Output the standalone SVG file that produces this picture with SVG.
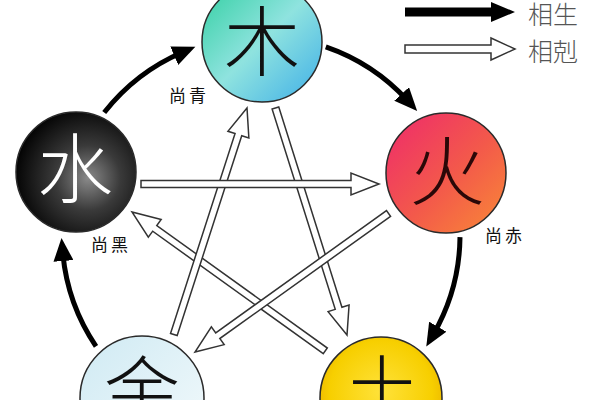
<svg xmlns="http://www.w3.org/2000/svg" xmlns:xlink="http://www.w3.org/1999/xlink" width="600" height="400" viewBox="0 0 600 400">
  <defs>
    <style>
      .node { stroke: #2a2a2a; stroke-width: 1.5; }
      .big { font-family: "Noto Sans CJK SC", "Noto Sans CJK JP", sans-serif; font-size: 76px; font-weight: 300; text-anchor: middle; }
      .lbl { font-family: "Noto Sans CJK SC", "Noto Sans CJK JP", sans-serif; font-size: 17px; fill: #111; letter-spacing: 3px; }
      .leg { font-family: "Noto Sans CJK SC", "Noto Sans CJK JP", sans-serif; font-size: 25px; font-weight: 300; fill: #555; }
      .sheng { fill: none; stroke: #000; stroke-width: 5; marker-end: url(#head); }
      .ke { fill: #fff; stroke: #333; stroke-width: 1.5; stroke-linejoin: miter; }
    </style>
    <marker id="head" markerUnits="userSpaceOnUse" markerWidth="24" markerHeight="20" refX="9" refY="10" orient="auto">
      <path d="M0,0 L23,10 L0,20 z" fill="#000"/>
    </marker>
    <polygon id="kearrow" points="-238,-3.5 -28,-3.5 -28,-11 0,0 -28,11 -28,3.5 -238,3.5"/>
    <linearGradient id="gWood" x1="0" y1="0" x2="1" y2="1">
      <stop offset="0" stop-color="#30cfa0"/>
      <stop offset="0.5" stop-color="#8fe3df"/>
      <stop offset="1" stop-color="#3eaee8"/>
    </linearGradient>
    <linearGradient id="gFire" x1="0" y1="0" x2="1" y2="1">
      <stop offset="0" stop-color="#ee2a6c"/>
      <stop offset="0.55" stop-color="#f35a4a"/>
      <stop offset="1" stop-color="#f98a36"/>
    </linearGradient>
    <radialGradient id="gWater" cx="0.6" cy="0.55" r="0.6">
      <stop offset="0" stop-color="#8a8a8a"/>
      <stop offset="0.45" stop-color="#3a3a3a"/>
      <stop offset="1" stop-color="#050505"/>
    </radialGradient>
    <linearGradient id="gMetal" x1="0" y1="0" x2="1" y2="1">
      <stop offset="0" stop-color="#cfeaf3"/>
      <stop offset="1" stop-color="#f4fafc"/>
    </linearGradient>
    <radialGradient id="gEarth" cx="0.5" cy="0.45" r="0.6">
      <stop offset="0" stop-color="#ffe23a"/>
      <stop offset="0.7" stop-color="#f7cf00"/>
      <stop offset="1" stop-color="#e8ad00"/>
    </radialGradient>
  </defs>
  <rect width="600" height="400" fill="#fff"/>

  <g id="connectors">
    <use xlink:href="#kearrow" class="ke" transform="translate(347,335) rotate(72.5)"/>
    <use xlink:href="#kearrow" class="ke" transform="translate(132,212) rotate(-144.3)"/>
    <use xlink:href="#kearrow" class="ke" transform="translate(195,352) rotate(144.4)"/>
    <use xlink:href="#kearrow" class="ke" transform="translate(247,108) rotate(-72.1)"/>
    <use xlink:href="#kearrow" class="ke" transform="translate(379,184)"/>
    <path class="sheng" d="M325.8,46.8 A199,199 0 0 1 407.7,100.6"/>
    <path class="sheng" d="M460,237.1 A199,199 0 0 1 433.3,334.5"/>
    <path class="sheng" d="M96,346.3 A199,199 0 0 1 62.7,252"/>
    <path class="sheng" d="M104.2,112.5 A199,199 0 0 1 182.5,52.2"/>
  </g>

  <g id="wood">
    <circle class="node" cx="262" cy="42" r="60" fill="url(#gWood)"/>
    <text class="big" x="262" y="70" fill="#111">木</text>
    <text class="lbl" x="169" y="102">尚青</text>
  </g>
  <g id="fire">
    <circle class="node" cx="446" cy="173" r="60" fill="url(#gFire)"/>
    <text class="big" x="447" y="199" fill="#2a0808">火</text>
    <text class="lbl" x="485" y="242">尚赤</text>
  </g>
  <g id="water">
    <circle class="node" cx="76" cy="172" r="60" fill="url(#gWater)"/>
    <text class="big" x="75" y="197" fill="#fff">水</text>
    <text class="lbl" x="91" y="251">尚黑</text>
  </g>
  <g id="metal">
    <circle class="node" cx="142" cy="398" r="62" fill="url(#gMetal)"/>
    <text class="big" x="142" y="420" fill="#111">金</text>
  </g>
  <g id="earth">
    <circle class="node" cx="381" cy="398" r="61" fill="url(#gEarth)"/>
    <text class="big" x="382" y="419" fill="#111">土</text>
  </g>

  <g id="legend">
    <polygon points="405,7.5 491,7.5 491,2 515,12 491,22 491,16.5 405,16.5" fill="#000"/>
    <text class="leg" x="528" y="24">相生</text>
    <polygon class="ke" points="405,45 491,45 491,38 515,49 491,60 491,53 405,53"/>
    <text class="leg" x="528" y="61">相剋</text>
  </g>
</svg>
